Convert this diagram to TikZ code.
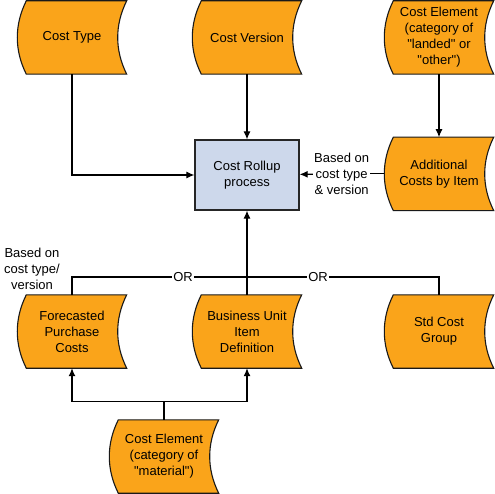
\documentclass[tikz,border=0pt]{standalone}
\usepackage{fontspec}
\setmainfont{Liberation Sans}[Ligatures=TeXOff]
\usetikzlibrary{positioning}
\usetikzlibrary{backgrounds,arrows.meta}
\definecolor{costorange}{RGB}{250,164,26}
\definecolor{rollblue}{RGB}{205,216,235}

\begin{document}
\begin{tikzpicture}[x=1pt,y=-1pt,node distance=63pt,
        store/.style={minimum width=109pt,minimum height=73pt,inner sep=0pt,align=center},
        storeshape/.style={draw=black!90,line width=1.1pt,fill=costorange},
        process/.style={rectangle,draw=black!85,line width=1.3pt,fill=rollblue,minimum width=104pt,minimum height=70pt,align=center},
        note/.style={align=center,inner sep=1pt},
        link/.style={line width=1.1pt},
        arr/.style={line width=1.1pt,-{Latex[length=8pt,width=7pt]}}
        ]
        \fontsize{13}{16}\selectfont
        \useasboundingbox (0,0) rectangle (495,494);
        \node (roll) [process] at (247,175) {Cost Rollup\\process};
        \node (ctype) [store] at (72,37.5) {Cost Type};
        \node (cver) [store] at (247,37.5) {Cost Version};
        \node (celand) [store] at (439,37.5) {Cost Element\\(category of\\"landed" or\\"other")};
        \node (addc) [store, below=of celand] {Additional\\Costs by Item};
        \node (fcast) [store] at (72,331.5) {Forecasted\\Purchase\\Costs};
        \node (bunit) [store] at (247,331.5) {Business Unit\\Item\\Definition};
        \node (stdg) [store] at (439,331.5) {Std Cost\\Group};
        \node (celmat) [store] at (164,456.5) {Cost Element\\(category of\\"material")};
        \node (based1) [note, left=14pt of addc] {Based on\\cost type\\\& version};
        \node (based2) [note] at (32,269) {Based on\\cost type/\\version};
        \node (or1) [note] at (183,277) {OR};
        \node (or2) [note] at (318,277) {OR};
        \coordinate (fork) at ([yshift=18pt]celmat.north);
        % curved data shapes behind the texts
        \begin{scope}[on background layer]
        \foreach \n in {ctype,cver,celand,addc,fcast,bunit,stdg,celmat}
            \draw[storeshape] ([xshift=9pt]\n.north west) -- (\n.north east)
                .. controls +(-12,24) and +(-12,-24) .. (\n.south east)
                -- ([xshift=9pt]\n.south west)
                .. controls +(-12,-24) and +(-12,24) .. ([xshift=9pt]\n.north west) -- cycle;
        \end{scope}
        \draw[arr] (ctype) |- (roll);
        \draw[arr] (cver) -- (roll);
        \draw[arr] (celand) -- (addc);
        \draw[link] (addc) -- (based1);
        \draw[arr] (based1) -- (roll);
        \draw[arr] (bunit) -- (roll);
        \draw[link] (fcast) |- (or1);
        \draw[link] (or1) -- (or2);
        \draw[link] (or2) -| (stdg);
        \draw[arr] (celmat) -- (fork) -| (fcast);
        \draw[arr] (fork) -| (bunit);
    \end{tikzpicture}
\end{document}
